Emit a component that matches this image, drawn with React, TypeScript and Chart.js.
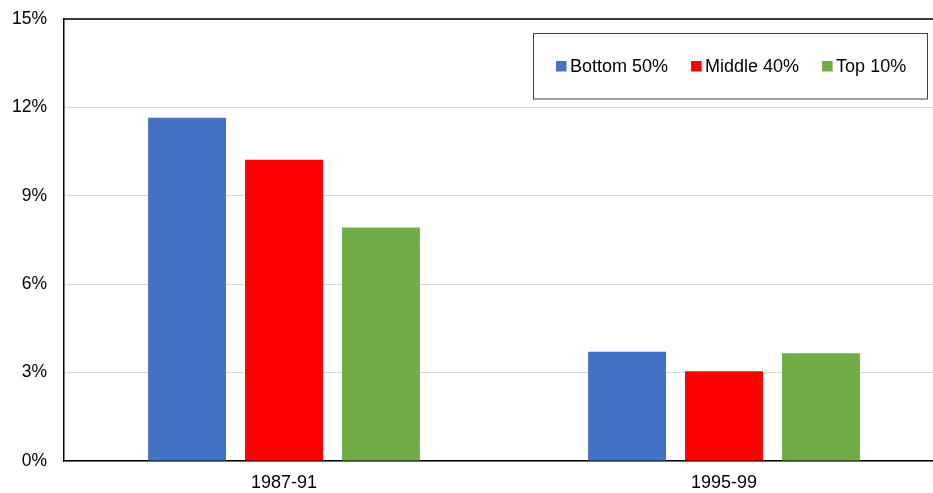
import React, { useEffect, useRef } from "react";
import { Chart, registerables } from "chart.js";

Chart.register(...registerables);

const categories = ["1987-91", "1995-99"];
const seriesNames = ["Bottom 50%", "Middle 40%", "Top 10%"];
const bottom50 = [11.65, 3.71];
const middle40 = [10.22, 3.05];
const top10 = [7.92, 3.66];
const seriesColors = ["#4472C4", "#FF0000", "#70AD47"];
const yTicks = [0, 3, 6, 9, 12, 15];

const FONT = "'Liberation Sans', Arial, sans-serif";

const legendBoxPlugin = {
  id: "legendBox",
  afterDraw(chart: any) {
    const ctx = chart.ctx;
    const { left, right, top } = chart.chartArea;
    ctx.save();
    // top border line of plot area
    ctx.strokeStyle = "#000";
    ctx.lineWidth = 1.5;
    ctx.beginPath();
    ctx.moveTo(left, top);
    ctx.lineTo(right, top);
    ctx.stroke();

    // legend box
    const bx = 533.5, by = 33.5, bw = 394, bh = 65.5;
    ctx.fillStyle = "#fff";
    ctx.fillRect(bx, by, bw, bh);
    ctx.strokeStyle = "#404040";
    ctx.lineWidth = 1;
    ctx.strokeRect(bx, by, bw, bh);

    ctx.font = `18px ${FONT}`;
    ctx.textBaseline = "alphabetic";
    ctx.textAlign = "left";
    let x = 556;
    const sq = 10.5;
    const textY = 72;
    chart.data.datasets.forEach((ds: any) => {
      ctx.fillStyle = ds.backgroundColor;
      ctx.fillRect(x, 61, sq, sq);
      ctx.fillStyle = "#000";
      const tx = x + sq + 3.5;
      ctx.fillText(ds.label, tx, textY);
      x = tx + ctx.measureText(ds.label).width + 23;
    });
    ctx.restore();
  },
};

export default function App() {
  const ref = useRef<HTMLCanvasElement | null>(null);

  useEffect(() => {
    if (!ref.current) return;
    const values = [bottom50, middle40, top10];
    const chart = new Chart(ref.current, {
      type: "bar",
      data: {
        labels: categories,
        datasets: seriesNames.map((name, i) => ({
          label: name,
          data: values[i],
          backgroundColor: seriesColors[i],
          borderWidth: 0,
          categoryPercentage: 0.661,
          barPercentage: 0.804,
        })),
      },
      options: {
        responsive: false,
        animation: false,
        layout: { padding: { top: 19, right: 0, left: 0, bottom: 0 } },
        plugins: {
          legend: { display: false },
          tooltip: { enabled: false },
          title: { display: false },
        },
        scales: {
          x: {
            grid: { display: false, drawTicks: false },
            border: { display: true, color: "#000", width: 1.5 },
            ticks: {
              color: "#000",
              font: { family: FONT, size: 18 },
              padding: 11,
            },
            afterFit: (scale: any) => {
              scale.height = 32;
              scale.paddingLeft = 0;
              scale.paddingRight = 0;
            },
          },
          y: {
            min: 0,
            max: 15,
            afterBuildTicks: (scale: any) => {
              scale.ticks = yTicks.map((v) => ({ value: v }));
            },
            grid: { color: "#d9d9d9", lineWidth: 1, drawTicks: false },
            border: { display: true, color: "#000", width: 1.5 },
            ticks: {
              color: "#000",
              font: { family: FONT, size: 17.5 },
              padding: 17,
              callback: (v: any) => `${v}%`,
            },
            afterFit: (scale: any) => {
              scale.width = 64;
              scale.paddingTop = 0;
              scale.paddingBottom = 0;
            },
          },
        },
      },
      plugins: [legendBoxPlugin],
    });
    return () => chart.destroy();
  }, []);

  return (
    <div
      style={{
        position: "fixed",
        left: 0,
        top: 0,
        width: 933,
        height: 493,
        overflow: "hidden",
        background: "#fff",
      }}
    >
      <canvas ref={ref} width={944} height={493} style={{ display: "block" }} />
    </div>
  );
}
